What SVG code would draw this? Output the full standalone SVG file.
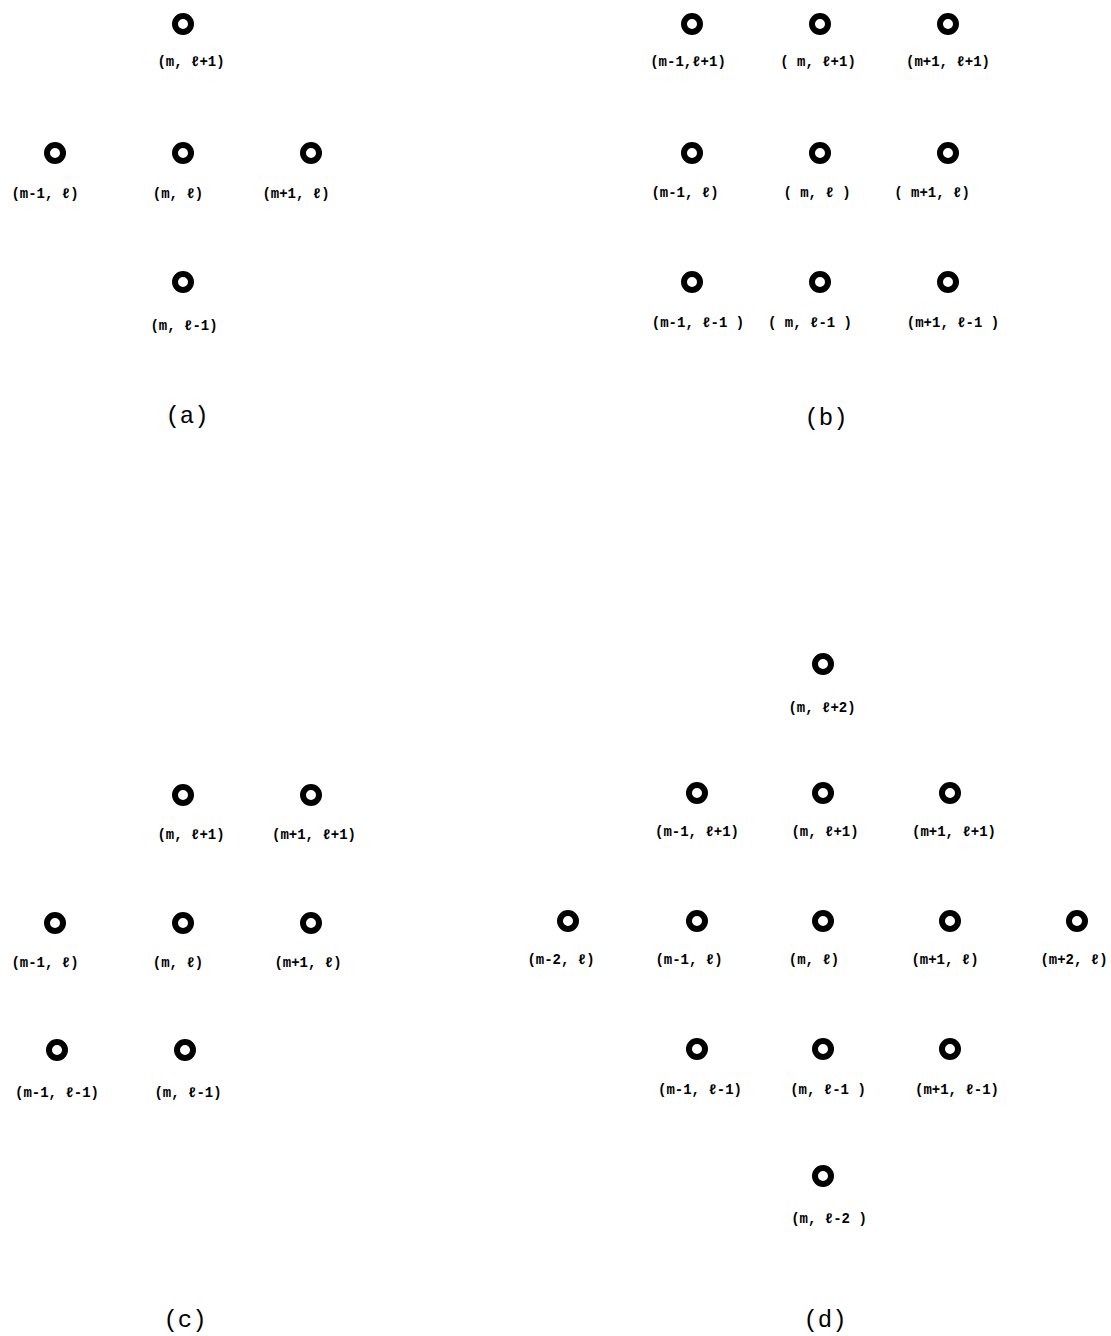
<svg xmlns="http://www.w3.org/2000/svg" width="1111" height="1336" viewBox="0 0 1111 1336">
<style>
.n circle{fill:none;stroke:#000;stroke-width:6}
.n text{font-family:"Liberation Mono","DejaVu Sans Mono",monospace;font-size:14px;font-weight:bold;text-anchor:middle;fill:#000}
.cap{font-family:"Liberation Mono","DejaVu Sans Mono",monospace;font-size:24px;text-anchor:middle;fill:#000}
</style>
<rect width="1111" height="1336" fill="#fff"/>
<g id="panel-a">
<g class="n" id="a-m-lp1"><circle cx="183" cy="24" r="8"/><text x="191" y="66">(m, ℓ+1)</text></g>
<g class="n" id="a-mm1-l"><circle cx="55" cy="153" r="8"/><text x="45" y="198">(m-1, ℓ)</text></g>
<g class="n" id="a-m-l"><circle cx="183" cy="153" r="8"/><text x="178" y="198">(m, ℓ)</text></g>
<g class="n" id="a-mp1-l"><circle cx="311" cy="153" r="8"/><text x="296" y="198">(m+1, ℓ)</text></g>
<g class="n" id="a-m-lm1"><circle cx="183" cy="282" r="8"/><text x="184" y="330">(m, ℓ-1)</text></g>
<text class="cap" x="187" y="423">(a)</text>
</g>
<g id="panel-b">
<g class="n" id="b-mm1-lp1"><circle cx="692" cy="24" r="8"/><text x="688" y="66">(m-1,ℓ+1)</text></g>
<g class="n" id="b-m-lp1"><circle cx="820" cy="24" r="8"/><text x="818" y="66">( m, ℓ+1)</text></g>
<g class="n" id="b-mp1-lp1"><circle cx="948" cy="24" r="8"/><text x="948" y="66">(m+1, ℓ+1)</text></g>
<g class="n" id="b-mm1-l"><circle cx="692" cy="153" r="8"/><text x="685" y="197">(m-1, ℓ)</text></g>
<g class="n" id="b-m-l"><circle cx="820" cy="153" r="8"/><text x="817" y="197">( m, ℓ )</text></g>
<g class="n" id="b-mp1-l"><circle cx="948" cy="153" r="8"/><text x="932" y="197">( m+1, ℓ)</text></g>
<g class="n" id="b-mm1-lm1"><circle cx="692" cy="282" r="8"/><text x="698" y="327">(m-1, ℓ-1 )</text></g>
<g class="n" id="b-m-lm1"><circle cx="820" cy="282" r="8"/><text x="810" y="327">( m, ℓ-1 )</text></g>
<g class="n" id="b-mp1-lm1"><circle cx="948" cy="282" r="8"/><text x="953" y="327">(m+1, ℓ-1 )</text></g>
<text class="cap" x="826" y="425">(b)</text>
</g>
<g id="panel-c">
<g class="n" id="c-m-lp1"><circle cx="183" cy="795" r="8"/><text x="191" y="839">(m, ℓ+1)</text></g>
<g class="n" id="c-mp1-lp1"><circle cx="311" cy="795" r="8"/><text x="314" y="839">(m+1, ℓ+1)</text></g>
<g class="n" id="c-mm1-l"><circle cx="55" cy="923" r="8"/><text x="45" y="967">(m-1, ℓ)</text></g>
<g class="n" id="c-m-l"><circle cx="183" cy="923" r="8"/><text x="178" y="967">(m, ℓ)</text></g>
<g class="n" id="c-mp1-l"><circle cx="311" cy="923" r="8"/><text x="308" y="967">(m+1, ℓ)</text></g>
<g class="n" id="c-mm1-lm1"><circle cx="57" cy="1050" r="8"/><text x="57" y="1097">(m-1, ℓ-1)</text></g>
<g class="n" id="c-m-lm1"><circle cx="185" cy="1050" r="8"/><text x="188" y="1097">(m, ℓ-1)</text></g>
<text class="cap" x="185" y="1327">(c)</text>
</g>
<g id="panel-d">
<g class="n" id="d-m-lp2"><circle cx="823" cy="664" r="8"/><text x="822" y="712">(m, ℓ+2)</text></g>
<g class="n" id="d-mm1-lp1"><circle cx="697" cy="793" r="8"/><text x="697" y="836">(m-1, ℓ+1)</text></g>
<g class="n" id="d-m-lp1"><circle cx="823" cy="793" r="8"/><text x="825" y="836">(m, ℓ+1)</text></g>
<g class="n" id="d-mp1-lp1"><circle cx="950" cy="793" r="8"/><text x="954" y="836">(m+1, ℓ+1)</text></g>
<g class="n" id="d-mm2-l"><circle cx="568" cy="921" r="8"/><text x="561" y="964">(m-2, ℓ)</text></g>
<g class="n" id="d-mm1-l"><circle cx="697" cy="921" r="8"/><text x="689" y="964">(m-1, ℓ)</text></g>
<g class="n" id="d-m-l"><circle cx="823" cy="921" r="8"/><text x="814" y="964">(m, ℓ)</text></g>
<g class="n" id="d-mp1-l"><circle cx="950" cy="921" r="8"/><text x="945" y="964">(m+1, ℓ)</text></g>
<g class="n" id="d-mp2-l"><circle cx="1077" cy="921" r="8"/><text x="1074" y="964">(m+2, ℓ)</text></g>
<g class="n" id="d-mm1-lm1"><circle cx="697" cy="1049" r="8"/><text x="700" y="1094">(m-1, ℓ-1)</text></g>
<g class="n" id="d-m-lm1"><circle cx="823" cy="1049" r="8"/><text x="828" y="1094">(m, ℓ-1 )</text></g>
<g class="n" id="d-mp1-lm1"><circle cx="950" cy="1049" r="8"/><text x="957" y="1094">(m+1, ℓ-1)</text></g>
<g class="n" id="d-m-lm2"><circle cx="823" cy="1176" r="8"/><text x="829" y="1223">(m, ℓ-2 )</text></g>
<text class="cap" x="825" y="1327">(d)</text>
</g>
<g id="connectors"/>
</svg>
